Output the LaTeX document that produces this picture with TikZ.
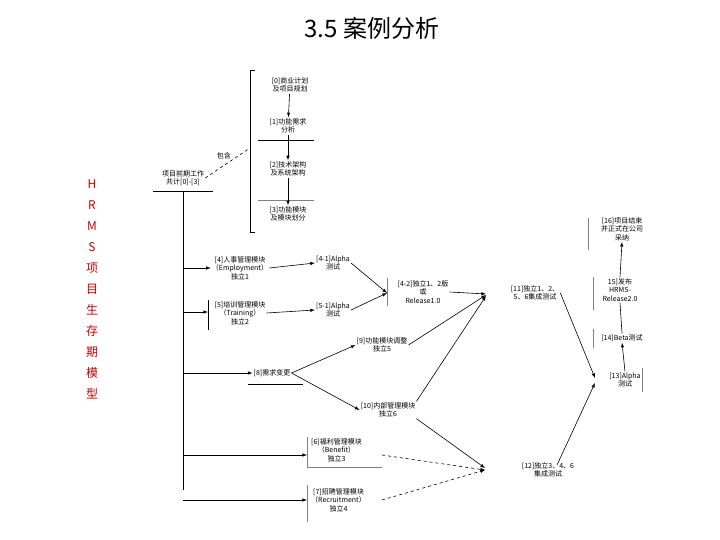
\documentclass[tikz,border=0pt]{standalone}
\usepackage{fontspec}
\setmainfont{Liberation Serif}
\newfontfamily\cjk{Noto Sans CJK SC}
\begin{document}
\begin{tikzpicture}[x=1pt,y=-1pt,
 t/.style={font=\cjk\fontsize{7}{8.5}\selectfont,align=center,inner sep=1pt},
 ln/.style={draw=black,line width=0.6pt},
 ar/.style={ln,-latex},
 da/.style={ln,dashed,-latex}]
\useasboundingbox (0,0) rectangle (720,540);
\node[font=\cjk\fontsize{24}{26}\selectfont] (title) at (372,28) {3.5 案例分析};
\node[font=\cjk\fontsize{12}{21}\selectfont,text=red!80!black,align=center] (side) at (92,289) {H\\R\\M\\S\\项\\目\\生\\存\\期\\模\\型};
% bracket group
\draw[ln] (255,70) -- (250,70) -- (250,232) -- (255,232);
\node[t] (n0) at (290,85) {[0]商业计划\\及项目规划};
\node[t] (n1) at (288,126) {[1]功能需求\\分析};
\node[t] (n2) at (288,169) {[2]技术架构\\及系统架构};
\node[t] (n3) at (288,214) {[3]功能模块\\及模块划分};
\draw[ln] (258,140) -- (314,140);
\draw[ln,draw=gray] (258,200) -- (314,200);
\draw[ar] (n0) -- (n1); \draw[ar] (n1) -- (n2); \draw[ar] (n2) -- (n3);
\node[t] (pre) at (183,178) {项目前期工作\\共计[0]-[3]};
\draw[ln] (153,191) -- (213,191);
\coordinate (bk) at (250,148);
\draw[ln,dashed] (pre.east) -- node[t,above left,pos=0.6] {包含} (bk);
\coordinate (top) at (183,191);
\coordinate (bot) at (183,490);
\draw[ln] (top) -- (bot);
% branches
\node[t] (n4) at (240,268) {[4]人事管理模块\\（Employment）\\独立1};
\node[t] (n5) at (240,313) {[5]培训管理模块\\（Training）\\独立2};
\node[t] (n8) at (272,373) {[8]需求变更};
\node[t,anchor=west] (n6) at (310,450) {[6]福利管理模块\\（Benefit）\\独立3};
\node[t,anchor=west] (n7) at (310,500) {[7]招聘管理模块\\（Recruitment）\\独立4};
\draw[ln] (208,300)--(208,330);
\draw[ln] (248,384)--(303,384);
\draw[ln,draw=gray] (307,437)--(307,467)--(382,467);
\draw[ln,draw=gray] (307,485)--(307,522);
\draw[ar] (183,268) -- (n4.west);
\draw[ar] (183,312) -- (208,312);
\draw[ar] (183,373) -- (n8.west);
\draw[ar] (183,455) -- (307,455);
\draw[ar] (183,500) -- (307,500);
\node[t] (n41) at (333,263) {[4-1]Alpha\\测试};
\node[t] (n51) at (333,310) {[5-1]Alpha\\测试};
\draw[ar] (n4.east) -- (n41.west);
\draw[ar] (n5.east) -- (n51.west);
\node[t] (n42) at (423,292) {[4-2]独立1、2版\\或\\Release1.0};
\draw[ln,draw=gray] (387,278)--(387,306);
\coordinate (c42) at (387,293);
\draw[ar] (n41.east) -- (c42);
\draw[ar] (n51.east) -- (c42);
\node[t] (n9) at (382,345) {[9]功能模块调整\\独立5};
\node[t] (n10) at (388,410) {[10]内部管理模块\\独立6};
\draw[ar] (n8.east) -- (n9.west);
\draw[ar] (n8.east) -- (n10.west);
\node[t] (n11) at (535,293) {[11]独立1、2、\\5、6集成测试};
\draw[ar] (n42.east) -- (486,294);
\draw[ar] (n9.east) -- (486,295);
\draw[ar] (n10.north east) -- (486,296);
\node[t] (n12) at (548,470) {[12]独立3、4、6\\集成测试};
\draw[da] (382,455) -- (485,470);
\draw[da] (382,500) -- (485,470);
\draw[ar] (n10.south east) -- (485,468);
\node[t] (n13) at (625,380) {[13]Alpha\\测试};
\draw[ln,draw=gray] (642,368)--(642,392);
\draw[ar] (n11.east) -- (595,378);
\draw[ar] (557,465) -- (595,383);
\node[t] (n14) at (622,338) {[14]Beta测试};
\draw[ln,draw=gray] (593,329)--(593,348);
\draw[ar] (n13.north) -- (n14.south);
\node[t] (n15) at (620,290) {15]发布\\HRMS-\\Release2.0};
\draw[ln,draw=gray] (593,277)--(593,310);
\draw[ln] (n14.north) -- (n15.south);
\node[t] (n16) at (622,229) {[16]项目结束\\并正式在公司\\采纳};
\draw[ln,draw=gray] (588,218)--(588,250);
\draw[ar] (n15.north) -- (n16.south);
\end{tikzpicture}
\end{document}
